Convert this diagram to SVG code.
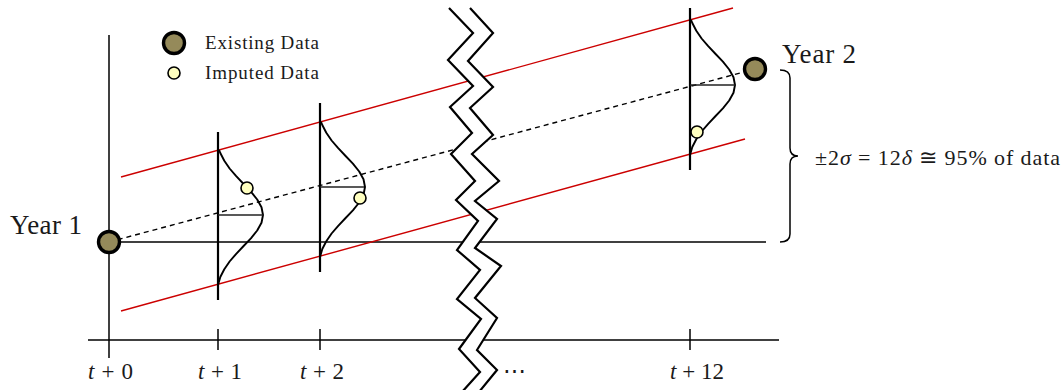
<svg xmlns="http://www.w3.org/2000/svg" xmlns:xlink="http://www.w3.org/1999/xlink" width="1064" height="390" viewBox="0 0 1064 390">
<style>
.ax{stroke:#000;stroke-width:1.5;fill:none}
.red{stroke:#cc0000;stroke-width:1.4;fill:none}
.dash{stroke:#000;stroke-width:1.4;stroke-dasharray:5 4;fill:none}
.vl{stroke:#000;stroke-width:2.2;fill:none}
.bell{stroke:#000;stroke-width:1.9;fill:none;stroke-linejoin:round}
.mean{stroke:#222;stroke-width:1.4}
.exist{fill:#958a5a;stroke:#000;stroke-width:3.4}
.imp{fill:#ffffc0;stroke:#000;stroke-width:1.6}
.zig{stroke:#000;stroke-width:2.2;fill:none;stroke-linejoin:miter}
text{font-family:"Liberation Serif","Times New Roman",serif;fill:#1a1a1a}
.lg{font-size:19px}
.yr{font-size:27px}
.tk{font-size:23px}
.br{font-size:22px}
.it{font-style:italic}
</style>
<defs>
<polyline id="bellcurve" class="bell" points="1,-65.1 2.3,-62 6.3,-54.3 11.6,-46.5 18.2,-38.8 25.6,-31 32.9,-23.3 39.2,-15.5 43.5,-7.8 45,0 43.5,7.8 39.2,15.5 32.9,23.3 25.6,31 18.2,38.8 11.6,46.5 6.3,54.3 2.3,62 0,70"/>
</defs>
<g id="axes">
<line class="ax" x1="109" y1="35" x2="109" y2="358"/>
<line class="ax" x1="88" y1="340" x2="779" y2="340"/>
<line class="ax" x1="218" y1="329" x2="218" y2="350"/>
<line class="ax" x1="320" y1="329" x2="320" y2="350"/>
<line class="ax" x1="690" y1="329" x2="690" y2="350"/>
</g>
<g id="connectors">
<line class="ax" x1="109" y1="242" x2="766" y2="242"/>
<line class="red" x1="121" y1="177" x2="733" y2="8"/>
<line class="red" x1="121" y1="311" x2="745" y2="139"/>
<line class="dash" x1="109" y1="242" x2="755" y2="69"/>
</g>
<g id="dist-t1">
<line class="vl" x1="218" y1="132" x2="218" y2="300"/>
<use xlink:href="#bellcurve" href="#bellcurve" transform="translate(218,215)"/>
<line class="mean" x1="218" y1="215" x2="263" y2="215"/>
</g>
<g id="dist-t2">
<line class="vl" x1="320" y1="103" x2="320" y2="272"/>
<use xlink:href="#bellcurve" href="#bellcurve" transform="translate(320,187)"/>
<line class="mean" x1="320" y1="187" x2="364" y2="187"/>
</g>
<g id="dist-t12">
<line class="vl" x1="690" y1="8" x2="690" y2="170"/>
<use xlink:href="#bellcurve" href="#bellcurve" transform="translate(690,85)"/>
<line class="mean" x1="690" y1="85" x2="735" y2="85"/>
</g>
<g id="break">
<polygon fill="#fff" stroke="none" points="449,8 473,33 448,60 473,86 450,107 472,133 451,154 475,181 456,200 478,221 457,250 480,270 457,299 481,319 459,349 480,372 462,392 479,392 497,370 477,350 497,318 475,298 501,266 475,248 497,219 475,201 499,181 472,154 493,135 470,108 493,87 468,61 493,33 470,8"/>
<polyline class="zig" points="449,8 473,33 448,60 473,86 450,107 472,133 451,154 475,181 456,200 478,221 457,250 480,270 457,299 481,319 459,349 480,372 462,392"/>
<polyline class="zig" points="470,8 493,33 468,61 493,87 470,108 493,135 472,154 499,181 475,201 497,219 475,248 501,266 475,298 497,318 477,350 497,370 479,392"/>
</g>
<g id="imputed">
<circle class="imp" cx="247" cy="188" r="6"/>
<circle class="imp" cx="360" cy="198" r="6"/>
<circle class="imp" cx="697" cy="132" r="6"/>
</g>
<g id="year1">
<circle class="exist" cx="109" cy="242" r="10.5"/>
<text class="yr" x="10" y="234" textLength="72">Year 1</text>
</g>
<g id="year2">
<circle class="exist" cx="755" cy="69" r="10.5"/>
<text class="yr" x="782" y="63" textLength="74">Year 2</text>
</g>
<g id="legend">
<circle class="exist" cx="174" cy="43" r="10.5"/>
<text class="lg" x="205" y="49" textLength="114">Existing Data</text>
<circle class="imp" cx="174" cy="73" r="6"/>
<text class="lg" x="205" y="79" textLength="114">Imputed Data</text>
</g>
<g id="brace">
<path class="ax" d="M780,70 Q790,70 790,78 L790,148 Q790,156 798,156 Q790,156 790,164 L790,234 Q790,242 780,242"/>
<text class="br" x="815" y="165" textLength="245">±2<tspan class="it">σ</tspan> = 12<tspan class="it">δ</tspan> ≅ 95% of data</text>
</g>
<g id="ticklabels">
<text class="tk" x="88" y="379" textLength="45"><tspan class="it">t</tspan> + 0</text>
<text class="tk" x="198" y="379" textLength="44"><tspan class="it">t</tspan> + 1</text>
<text class="tk" x="300" y="379" textLength="44"><tspan class="it">t</tspan> + 2</text>
<text class="tk" x="670" y="379" textLength="54"><tspan class="it">t</tspan> + 12</text>
<text class="tk" x="503" y="378">⋯</text>
</g>
</svg>
